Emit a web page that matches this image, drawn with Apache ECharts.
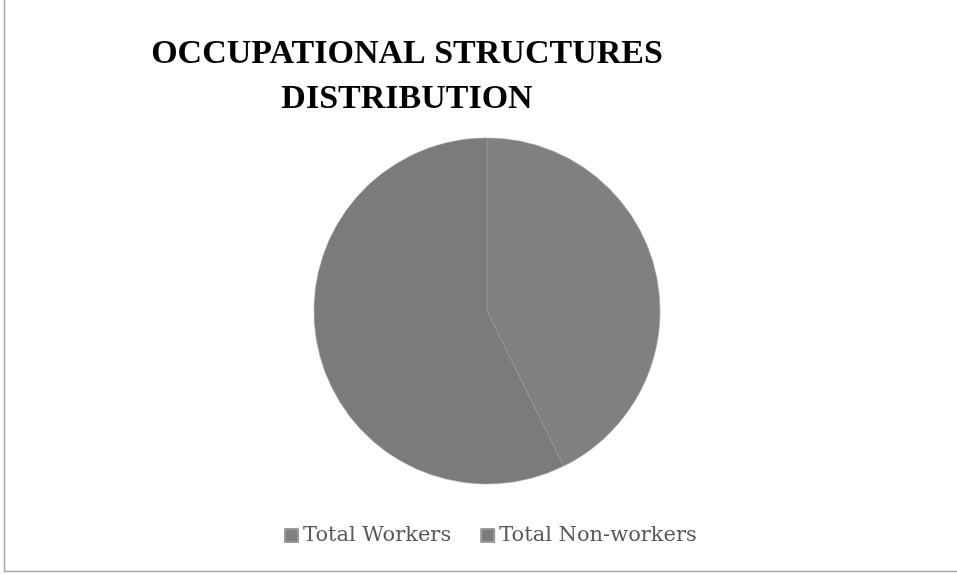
<!DOCTYPE html>
<html>
<head>
<meta charset="utf-8">
<script src="https://cdn.jsdelivr.net/npm/echarts@6/dist/echarts.min.js"></script>
<style>
  html, body { margin: 0; padding: 0; background: #ffffff; }
  #chart { width: 957px; height: 575px; }
</style>
</head>
<body>
<div id="chart"></div>
<script>
// Population split by working status (percent of total)
const categories = ['Total Workers', 'Total Non-workers'];
const shares = [42.7, 57.3];
const sliceColors = ['#808080', '#7b7b7b'];

const chart = echarts.init(document.getElementById('chart'), null, { renderer: 'canvas' });

chart.setOption({
  backgroundColor: '#ffffff',
  animation: false,
  title: {
    text: 'OCCUPATIONAL STRUCTURES\nDISTRIBUTION',
    left: 402,
    top: 27,
    textAlign: 'center',
    textStyle: {
      fontFamily: 'Liberation Serif',
      fontWeight: 'bold',
      fontSize: 34,
      lineHeight: 45,
      color: '#000000'
    }
  },
  legend: {
    data: categories,
    bottom: 24,
    left: 279,
    icon: 'rect',
    itemWidth: 13,
    itemHeight: 13,
    itemGap: 29,
    textStyle: {
      fontFamily: 'DejaVu Serif',
      fontSize: 21,
      color: '#595959'
    }
  },
  series: [{
    type: 'pie',
    center: [487, 311],
    radius: 173,
    startAngle: 90,
    clockwise: true,
    label: { show: false },
    labelLine: { show: false },
    emphasis: { disabled: true },
    itemStyle: { borderColor: '#9a9a9a', borderWidth: 0.6 },
    data: categories.map((name, i) => ({
      name,
      value: shares[i],
      itemStyle: { color: sliceColors[i] }
    }))
  }],
  graphic: [
    { type: 'line', shape: { x1: 4.5, y1: 0, x2: 4.5, y2: 572 }, style: { stroke: '#a6a6a6', lineWidth: 1.5 } },
    { type: 'line', shape: { x1: 4, y1: 571.5, x2: 957, y2: 571.5 }, style: { stroke: '#a6a6a6', lineWidth: 1.5 } }
  ]
});
</script>
</body>
</html>
